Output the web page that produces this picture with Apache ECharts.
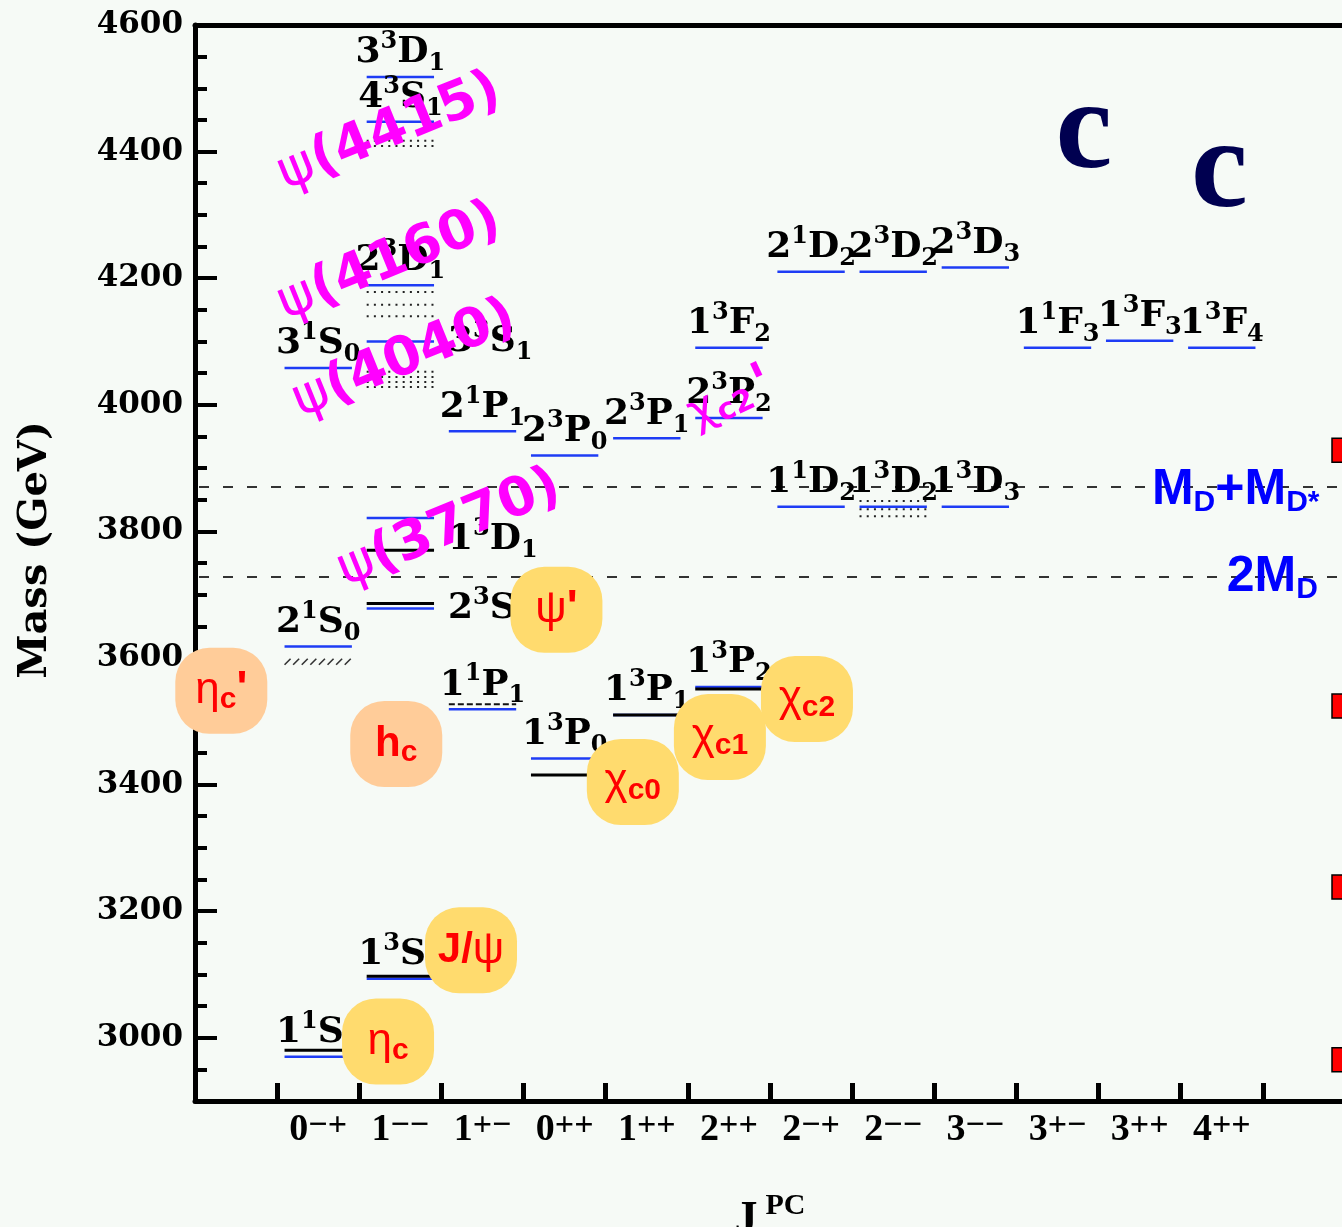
<!DOCTYPE html>
<html>
<head>
<meta charset="utf-8">
<title>Charmonium spectrum</title>
<script src="https://cdn.jsdelivr.net/npm/echarts@6/dist/echarts.min.js"></script>
<style>
  html, body { margin: 0; padding: 0; background: #f6faf6; }
  #chart { width: 1342px; height: 1227px; }
</style>
</head>
<body>
<div id="chart"></div>
<script>
// ---------------------------------------------------------------
// Data
// ---------------------------------------------------------------

// J^PC columns: total spin J and the P, C parities
const jpcJ  = ['0', '1', '1', '0', '1', '2', '2', '2', '3', '3', '3', '4'];
const jpcPC = ['\u2212+', '\u2212\u2212', '+\u2212', '++', '++', '++', '\u2212+', '\u2212\u2212', '\u2212\u2212', '+\u2212', '++', '++'];

// Mass axis labels (MeV)
const massTicks = [3000, 3200, 3400, 3600, 3800, 4000, 4200, 4400, 4600];

// Potential-model states: [n, 2S+1, L, J, column, mass]
const modelStates = [
  ['1', '1', 'S', '0', 0, 2970],
  ['2', '1', 'S', '0', 0, 3618],
  ['3', '1', 'S', '0', 0, 4058],
  ['1', '3', 'S', '1', 1, 3093],
  ['2', '3', 'S', '1', 1, 3678],
  ['1', '3', 'D', '1', 1, 3821],
  ['3', '3', 'S', '1', 1, 4100],
  ['2', '3', 'D', '1', 1, 4189],
  ['4', '3', 'S', '1', 1, 4447],
  ['3', '3', 'D', '1', 1, 4518],
  ['1', '1', 'P', '1', 2, 3519],
  ['2', '1', 'P', '1', 2, 3958],
  ['1', '3', 'P', '0', 3, 3441],
  ['2', '3', 'P', '0', 3, 3920],
  ['1', '3', 'P', '1', 4, 3510],
  ['2', '3', 'P', '1', 4, 3947],
  ['1', '3', 'P', '2', 5, 3554],
  ['2', '3', 'P', '2', 5, 3979],
  ['1', '3', 'F', '2', 5, 4090],
  ['1', '1', 'D', '2', 6, 3839],
  ['2', '1', 'D', '2', 6, 4210],
  ['1', '3', 'D', '2', 7, 3839],
  ['2', '3', 'D', '2', 7, 4210],
  ['1', '3', 'D', '3', 8, 3839],
  ['2', '3', 'D', '3', 8, 4217],
  ['1', '1', 'F', '3', 9, 4090],
  ['1', '3', 'F', '3', 10, 4101],
  ['1', '3', 'F', '4', 11, 4090]
];

// Measured states: [column, mass]
const observedSolid   = [[0, 2980], [1, 3097], [1, 3686], [1, 3770], [3, 3415], [4, 3510], [5, 3551]];
const observedDashed  = [[2, 3527]];
const observedHatched = [[0, 3594]];
// Broad vector resonances, drawn as dotted bands
const observedDotted  = [
  [1, 4417], [1, 4409],
  [1, 4178], [1, 4158], [1, 4140],
  [1, 4052], [1, 4044], [1, 4036], [1, 4028],
  [7, 3848], [7, 3835], [7, 3824]
];

// Open-charm thresholds (MeV)
const thresholds = [3870, 3728];
const thresholdNames = ['{m|M}{d|D}{m|+M}{d|D*}', '{m|2M}{d|D}'];

// Markers at the right edge of the frame (MeV)
const edgeMarks = [3928, 3524, 3238, 2965];

// ---------------------------------------------------------------
// Layout of annotations (x in column units, y in MeV)
// ---------------------------------------------------------------
const colCenter = c => c + 1.5;   // columns occupy the bands 1..13 of the x axis
const HALF = 0.41;                // half length of a level, in column units

// Labels placed beside their level instead of above it
const labelBeside = { '23S1': 0, '13D1': 22, '33S1': 0 };

const resonanceTags = [
  { text: '{g|\u03c8}{b|(4415)}', at: [2.37, 4430], angle: 22 },
  { text: '{g|\u03c8}{b|(4160)}', at: [2.37, 4225], angle: 22 },
  { text: '{g|\u03c8}{b|(4040)}', at: [2.55, 4071], angle: 22 },
  { text: '{g|\u03c8}{b|(3770)}', at: [3.10, 3804], angle: 22 },
  { text: '{x|\u03c7}{s|c2}{p|\'}',  at: [6.52, 4010], angle: 25 }
];

const GOLD = '#ffdb6e', PEACH = '#ffcc99';
const particleTags = [
  { text: '{g|\u03b7}{s|c}',          at: [2.35, 2994], fill: GOLD },
  { text: '{b|J/}{g|\u03c8}',         at: [3.36, 3138], fill: GOLD },
  { text: '{g|\u03c8}{p|\'}',         at: [4.40, 3676], fill: GOLD },
  { text: '{g|\u03b7}{s|c}{p|\'}',    at: [0.32, 3548], fill: PEACH },
  { text: '{b|h}{s|c}',               at: [2.45, 3464], fill: PEACH },
  { text: '{g|\u03c7}{s|c0}',         at: [5.33, 3404], fill: GOLD },
  { text: '{g|\u03c7}{s|c1}',         at: [6.39, 3475], fill: GOLD },
  { text: '{g|\u03c7}{s|c2}',         at: [7.45, 3535], fill: GOLD }
];

const quarkLetters = [
  { text: 'c', at: [10.82, 4428] },
  { text: 'c', at: [12.47, 4366] }
];

// Threshold label anchors: left edge in column units, pixel shift
const thresholdLabelX = [11.65, 12.56];
const thresholdLabelDy = [3, 0];

// ---------------------------------------------------------------
// Styles
// ---------------------------------------------------------------
const BLUE = '#1e3cf5';
const SERIF = 'DejaVu Serif';

const levelRich = {
  m:   { fontFamily: SERIF, fontWeight: 'bold', fontSize: 36, lineHeight: 46, fill: '#000' },
  sup: { fontFamily: SERIF, fontWeight: 'bold', fontSize: 24, lineHeight: 6, verticalAlign: 'top', fill: '#000' },
  sub: { fontFamily: SERIF, fontWeight: 'bold', fontSize: 24, lineHeight: 20, verticalAlign: 'bottom', fill: '#000' }
};

const magentaRich = {
  g: { fontFamily: 'DejaVu Sans', fontSize: 54, lineHeight: 60, fill: '#ff00ff' },
  b: { fontFamily: 'DejaVu Sans', fontWeight: 'bold', fontSize: 54, lineHeight: 60, fill: '#ff00ff' },
  x: { fontFamily: 'DejaVu Sans', fontSize: 46, lineHeight: 50, fill: '#ff00ff' },
  s: { fontFamily: 'DejaVu Sans', fontWeight: 'bold', fontSize: 30, lineHeight: 24, verticalAlign: 'bottom', fill: '#ff00ff' },
  p: { fontFamily: 'DejaVu Sans', fontWeight: 'bold', fontSize: 56, lineHeight: 20, verticalAlign: 'top', fill: '#ff00ff', padding: [0, 0, 0, 6] }
};

const tagRich = {
  g: { fontFamily: 'Liberation Sans', fontSize: 44, lineHeight: 48, fill: '#ff0000' },
  b: { fontFamily: 'Liberation Sans', fontWeight: 'bold', fontSize: 42, lineHeight: 48, fill: '#ff0000' },
  s: { fontFamily: 'Liberation Sans', fontWeight: 'bold', fontSize: 30, lineHeight: 22, verticalAlign: 'bottom', fill: '#ff0000' },
  p: { fontFamily: 'Liberation Sans', fontWeight: 'bold', fontSize: 46, lineHeight: 26, verticalAlign: 'top', fill: '#ff0000' }
};

const thresholdRich = {
  m: { fontFamily: 'Liberation Sans', fontWeight: 'bold', fontSize: 50, lineHeight: 56, fill: '#0000ff' },
  d: { fontFamily: 'Liberation Sans', fontWeight: 'bold', fontSize: 30, lineHeight: 12, verticalAlign: 'bottom', fill: '#0000ff' }
};

// ---------------------------------------------------------------
// Series builders
// ---------------------------------------------------------------
function customSeries(data, renderItem) {
  return {
    type: 'custom', xAxisIndex: 0, yAxisIndex: 0, silent: true,
    animation: false, data: data, renderItem: renderItem
  };
}

function levelEnds(api) {
  const p = api.coord([api.value(0), api.value(1)]);
  const hw = api.size([1, 0])[0] * HALF;
  return { x1: p[0] - hw, x2: p[0] + hw, y: p[1], cx: p[0], hw: hw };
}

function plainLevels(list, stroke, width, dash) {
  return customSeries(list.map(d => [colCenter(d[0]), d[1]]), function (params, api) {
    const e = levelEnds(api);
    return {
      type: 'line',
      shape: { x1: e.x1, y1: e.y, x2: e.x2, y2: e.y },
      style: { stroke: stroke, lineWidth: width, lineDash: dash || null }
    };
  });
}

const series = [
  // thresholds
  customSeries(thresholds.map(m => [0, m]), function (params, api) {
    const a = api.coord([0, api.value(1)]);
    const b = api.coord([14, api.value(1)]);
    return {
      type: 'line',
      shape: { x1: a[0] + 4, y1: a[1], x2: b[0], y2: b[1] },
      style: { stroke: '#333', lineWidth: 2, lineDash: [10, 14] }
    };
  }),
  // dotted resonance bands
  plainLevels(observedDotted, '#222', 2, [2, 5.2]),
  // hatched measurement
  customSeries(observedHatched.map(d => [colCenter(d[0]), d[1]]), function (params, api) {
    const e = levelEnds(api);
    const strokes = [];
    for (let x = e.x1; x + 6 <= e.x2 + 1; x += 8.6) {
      strokes.push({
        type: 'line',
        shape: { x1: x, y1: e.y + 3, x2: x + 6, y2: e.y - 3 },
        style: { stroke: '#333', lineWidth: 1.6 }
      });
    }
    return { type: 'group', children: strokes };
  }),
  // potential-model levels
  customSeries(modelStates.map(s => [colCenter(s[4]), s[5]]), function (params, api) {
    const e = levelEnds(api);
    return {
      type: 'line',
      shape: { x1: e.x1, y1: e.y, x2: e.x2, y2: e.y },
      style: { stroke: BLUE, lineWidth: 2.5 }
    };
  }),
  // measured levels
  plainLevels(observedSolid, '#000', 3),
  plainLevels(observedDashed, '#111', 2, [6, 3]),
  // spectroscopic labels
  customSeries(modelStates.map((s, i) => [colCenter(s[4]), s[5], i]), function (params, api) {
    const s = modelStates[api.value(2)];
    const e = levelEnds(api);
    const text = '{m|' + s[0] + '}{sup|' + s[1] + '}{m|' + s[2] + '}{sub|' + s[3] + '}';
    const key = s[0] + s[1] + s[2] + s[3];
    if (key in labelBeside) {
      return {
        type: 'text', x: e.x2 + 14, y: e.y + labelBeside[key],
        style: { text: text, rich: levelRich, align: 'left', verticalAlign: 'middle' }
      };
    }
    return {
      type: 'text', x: e.cx, y: e.y - 1,
      style: { text: text, rich: levelRich, align: 'center', verticalAlign: 'bottom' }
    };
  }),
  // resonance names
  customSeries(resonanceTags.map((t, i) => [t.at[0], t.at[1], i]), function (params, api) {
    const t = resonanceTags[api.value(2)];
    const p = api.coord([api.value(0), api.value(1)]);
    return {
      type: 'text', x: p[0], y: p[1], rotation: t.angle * Math.PI / 180,
      style: { text: t.text, rich: magentaRich, align: 'center', verticalAlign: 'middle' }
    };
  }),
  // particle tags
  customSeries(particleTags.map((t, i) => [t.at[0], t.at[1], i]), function (params, api) {
    const t = particleTags[api.value(2)];
    const p = api.coord([api.value(0), api.value(1)]);
    return {
      type: 'group',
      children: [
        { type: 'rect', shape: { x: p[0] - 46, y: p[1] - 43, width: 92, height: 86, r: 34 },
          style: { fill: t.fill } },
        { type: 'text', x: p[0], y: p[1],
          style: { text: t.text, rich: tagRich, align: 'center', verticalAlign: 'middle' } }
      ]
    };
  }),
  // quark letters
  customSeries(quarkLetters.map((q, i) => [q.at[0], q.at[1], i]), function (params, api) {
    const q = quarkLetters[api.value(2)];
    const p = api.coord([api.value(0), api.value(1)]);
    return {
      type: 'text', x: p[0], y: p[1],
      style: { text: q.text, fill: '#000050', align: 'center', verticalAlign: 'middle',
               font: 'bold 128px "Liberation Serif"' }
    };
  }),
  // threshold labels
  customSeries(thresholds.map((m, i) => [thresholdLabelX[i], m, i]), function (params, api) {
    const i = api.value(2);
    const p = api.coord([api.value(0), api.value(1)]);
    return {
      type: 'text', x: p[0], y: p[1] + thresholdLabelDy[i],
      style: { text: thresholdNames[i], rich: thresholdRich, align: 'left', verticalAlign: 'middle' }
    };
  }),
  // edge markers
  customSeries(edgeMarks.map(m => [14, m]), function (params, api) {
    const p = api.coord([api.value(0), api.value(1)]);
    return {
      type: 'rect', shape: { x: p[0] - 13, y: p[1] - 12, width: 22, height: 24 },
      style: { fill: '#ff0000', stroke: '#000', lineWidth: 1.5 }
    };
  })
];

// ---------------------------------------------------------------
// Axes
// ---------------------------------------------------------------
const minorTicks = [];
for (let v = 2950; v < 4600; v += 50) {
  if (massTicks.indexOf(v) < 0) minorTicks.push(v);
}

const columnLabels = [''].concat(jpcJ.map((j, i) => j + '|' + jpcPC[i])).concat(['']);

const option = {
  backgroundColor: '#f6faf6',
  animation: false,
  grid: { left: 195, top: 25, width: 1150, height: 1076, outerBoundsMode: 'none', containLabel: false },
  xAxis: [
    {
      type: 'value', min: 0, max: 14, interval: 1, position: 'bottom',
      axisLine: { show: true, onZero: false, lineStyle: { color: '#000', width: 5 } },
      axisTick: { show: true, inside: true, length: 18, lineStyle: { color: '#000', width: 5 } },
      axisLabel: { show: false }, splitLine: { show: false }
    },
    {
      type: 'category', data: columnLabels, position: 'bottom', boundaryGap: true,
      axisLine: { show: false }, axisTick: { show: false }, splitLine: { show: false },
      axisLabel: {
        interval: 0, margin: 8,
        formatter: function (v) {
          if (!v) return '';
          const parts = v.split('|');
          return '{j|' + parts[0] + '}{pc|' + parts[1] + '}';
        },
        rich: {
          j:  { fontFamily: 'Liberation Serif', fontWeight: 'bold', fontSize: 38, lineHeight: 42, color: '#000' },
          pc: { fontFamily: 'Liberation Serif', fontWeight: 'bold', fontSize: 34, lineHeight: 20, verticalAlign: 'top', color: '#000' }
        }
      },
      name: '{j|J}{pc|PC}', nameLocation: 'middle', nameGap: 90,
      nameTextStyle: {
        rich: {
          j:  { fontFamily: 'Liberation Serif', fontWeight: 'bold', fontSize: 46, lineHeight: 60, color: '#000', padding: [0, 8, 0, 0] },
          pc: { fontFamily: 'Liberation Serif', fontWeight: 'bold', fontSize: 30, lineHeight: 18, verticalAlign: 'top', color: '#000' }
        }
      }
    },
    {
      type: 'value', min: 0, max: 14, position: 'top',
      axisLine: { show: true, lineStyle: { color: '#000', width: 5 } },
      axisTick: { show: false }, axisLabel: { show: false }, splitLine: { show: false }
    }
  ],
  yAxis: [
    {
      type: 'value', min: 2900, max: 4600, position: 'left',
      axisLine: { show: true, onZero: false, lineStyle: { color: '#000', width: 5 } },
      axisTick: { show: true, inside: true, length: 22, customValues: massTicks, lineStyle: { color: '#000', width: 4 } },
      axisLabel: {
        customValues: massTicks, margin: 12,
        formatter: v => String(v),
        fontFamily: SERIF, fontWeight: 'bold', fontSize: 31, color: '#000'
      },
      splitLine: { show: false },
      name: 'Mass (GeV)', nameLocation: 'middle', nameRotate: 90, nameGap: 139,
      nameTextStyle: { fontFamily: SERIF, fontWeight: 'bold', fontSize: 40, color: '#000', padding: [0, 0, 0, 26] }
    },
    {
      type: 'value', min: 2900, max: 4600, position: 'left',
      axisLine: { show: false },
      axisTick: { show: true, inside: true, length: 12, customValues: minorTicks, lineStyle: { color: '#000', width: 4 } },
      axisLabel: { show: false }, splitLine: { show: false }
    }
  ],
  series: series
};

const chart = echarts.init(document.getElementById('chart'), null, { renderer: 'canvas' });
chart.setOption(option);
</script>
</body>
</html>
